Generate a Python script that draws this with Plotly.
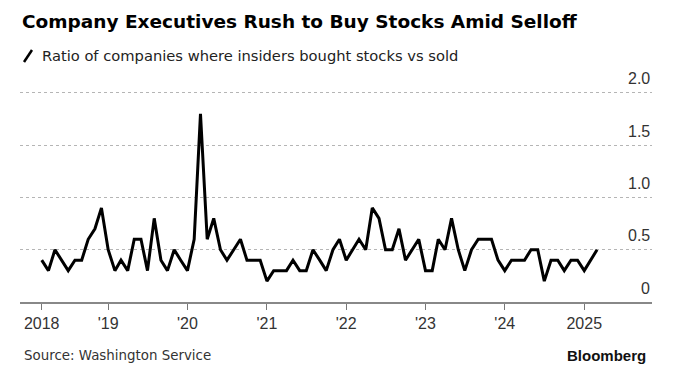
import plotly.graph_objects as go
import pandas as pd

# Monthly ratio, Mar 2018 .. Mar 2025
start_month = "2018-03-01"
ratio = [0.4, 0.3, 0.5, 0.4, 0.3, 0.4, 0.4, 0.6, 0.7, 0.9,   # 2018 Mar-Dec
         0.5, 0.3, 0.4, 0.3, 0.6, 0.6, 0.3, 0.8, 0.4, 0.3, 0.5, 0.4,   # 2019
         0.3, 0.6, 1.8, 0.6, 0.8, 0.5, 0.4, 0.5, 0.6, 0.4, 0.4, 0.4,   # 2020
         0.2, 0.3, 0.3, 0.3, 0.4, 0.3, 0.3, 0.5, 0.4, 0.3, 0.5, 0.6,   # 2021
         0.4, 0.5, 0.6, 0.5, 0.9, 0.8, 0.5, 0.5, 0.7, 0.4, 0.5, 0.6,   # 2022
         0.3, 0.3, 0.6, 0.5, 0.8, 0.5, 0.3, 0.5, 0.6, 0.6, 0.6, 0.4,   # 2023
         0.3, 0.4, 0.4, 0.4, 0.5, 0.5, 0.2, 0.4, 0.4, 0.3, 0.4, 0.4,   # 2024
         0.3, 0.4, 0.5]                                                # 2025 Jan-Mar
dates = pd.date_range(start_month, periods=len(ratio), freq="MS")

x_tick_vals = ["2018-03-01", "2019-01-01", "2020-01-01", "2021-01-01", "2022-01-01",
               "2023-01-01", "2024-01-01", "2025-01-01"]
x_tick_text = ["2018", "'19", "'20", "'21", "'22", "'23", "'24", "2025"]
y_tick_vals = [0, 0.5, 1.0, 1.5, 2.0]
y_tick_text = ["0", "0.5", "1.0", "1.5", "2.0"]

title = "Company Executives Rush to Buy Stocks Amid Selloff"
subtitle = "Ratio of companies where insiders bought stocks vs sold"
source = "Source: Washington Service"

# plot-area pixel frame (for placing header/footer text)
L, R, T, B = 20, 652, 72, 302


def px(xp):
    return (xp - L) / (R - L)


def py(yp):
    return (B - yp) / (B - T)


fig = go.Figure()
fig.add_trace(go.Scatter(x=dates, y=ratio, mode="lines",
                         line=dict(color="#000000", width=3),
                         hoverinfo="skip", showlegend=False))

fig.update_layout(
    width=680, height=384,
    margin=dict(l=L, r=680 - R, t=T, b=384 - B),
    paper_bgcolor="white", plot_bgcolor="white",
    showlegend=False,
    title=dict(text="<b>" + title + "</b>", xref="container", yref="container",
               x=22 / 680, xanchor="left", y=1 - 22 / 384, yanchor="middle",
               font=dict(family="DejaVu Sans", size=18.5, color="#000000")),
    xaxis=dict(type="date", range=["2017-11-21", "2025-11-09"],
               tickmode="array", tickvals=x_tick_vals, ticktext=x_tick_text,
               ticks="outside", ticklen=6, tickcolor="#777777", tickwidth=1,
               showline=True, linecolor="#888888", linewidth=1.5,
               showgrid=False, zeroline=False,
               tickfont=dict(family="Liberation Sans", size=16, color="#333333")),
    yaxis=dict(range=[0, 2.2], side="right",
               tickmode="array", tickvals=y_tick_vals,
               showticklabels=False,
               ticks="", showline=False, zeroline=False,
               showgrid=True, gridcolor="#b5b5b5", griddash="dot", gridwidth=1),
)

# y tick labels sitting above their gridlines at the right edge
for v, t in zip(y_tick_vals, y_tick_text):
    fig.add_annotation(text=t, xref="paper", yref="y", x=1, y=v,
                       xanchor="right", yanchor="middle", yshift=14,
                       showarrow=False,
                       font=dict(family="Liberation Sans", size=16, color="#333333"))

# legend-like subtitle with slash icon
fig.add_shape(type="line", xref="paper", yref="paper",
              x0=px(24), x1=px(32), y0=py(62), y1=py(50),
              line=dict(color="#000000", width=2.5))
fig.add_annotation(text=subtitle, xref="paper", yref="paper",
                   x=px(40), y=py(55), xanchor="left", yanchor="middle",
                   showarrow=False,
                   font=dict(family="DejaVu Sans", size=14.7, color="#222222"))
fig.add_annotation(text=source, xref="paper", yref="paper",
                   x=px(22), y=py(355), xanchor="left", yanchor="middle",
                   showarrow=False,
                   font=dict(family="DejaVu Sans", size=13.4, color="#333333"))
fig.add_annotation(text="<b>Bloomberg</b>", xref="paper", yref="paper",
                   x=px(648), y=py(355), xanchor="right", yanchor="middle",
                   showarrow=False,
                   font=dict(family="Liberation Sans", size=15, color="#111111"))

fig.write_html("out.html", config={"displayModeBar": False},
               post_script="document.body.style.margin='0';")
